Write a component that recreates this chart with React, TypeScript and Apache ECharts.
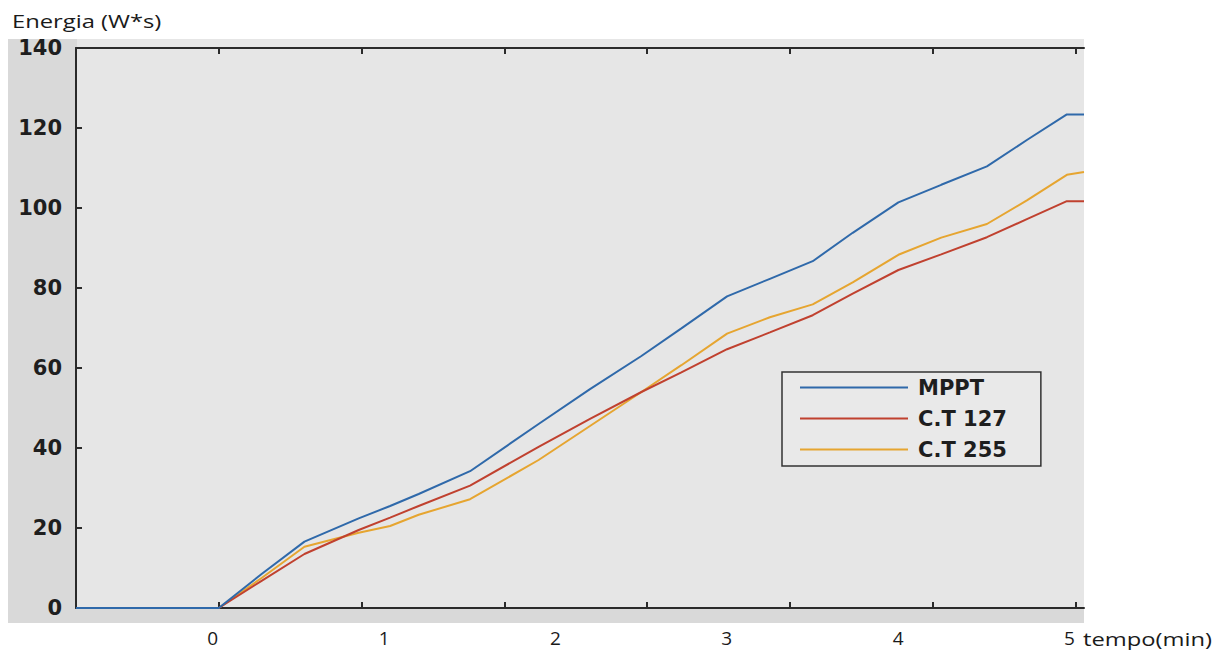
import React, { useEffect, useRef } from "react";
import * as echarts from "echarts";

// Sample times in seconds (the axis is measured in seconds, labelled in minutes)
const timeSec = [-50, 0, 15, 30, 49, 60, 70, 88, 112, 130, 148, 162, 178, 193, 208, 222, 238, 253, 269, 283, 297, 303];

// Accumulated energy (W*s) for each control strategy
const mppt = [0, 0, 8.5, 16.6, 22.4, 25.5, 28.5, 34.2, 46.0, 54.7, 63.0, 69.9, 77.9, 82.3, 86.7, 93.8, 101.4, 105.8, 110.4, 117.0, 123.4, 123.4];
const ct127 = [0, 0, 6.8, 13.5, 19.5, 22.6, 25.5, 30.6, 40.3, 47.3, 54.0, 58.9, 64.7, 68.9, 73.2, 78.6, 84.5, 88.4, 92.7, 97.2, 101.7, 101.7];
const ct255 = [0, 0, 7.5, 15.3, 18.8, 20.5, 23.3, 27.2, 37.0, 45.5, 54.0, 60.7, 68.6, 72.7, 75.9, 81.4, 88.3, 92.6, 96.0, 101.9, 108.3, 109.0];

const seriesNames = ["MPPT", "C.T 127", "C.T 255"];
const seriesColors = ["#2f69aa", "#c0412f", "#e6a530"];

// Tick marks every 50 s, labels every minute
const secTicks = [-50, 0, 50, 100, 150, 200, 250, 300];
const minuteLabels = [0, 1, 2, 3, 4, 5];
const yTicks = [0, 20, 40, 60, 80, 100, 120, 140];

const AXIS_COLOR = "#2a2a2a";
const LABEL_FONT = "'Open Sans', 'Noto Sans', sans-serif";
const BOLD_FONT = "'DejaVu Sans', Verdana, sans-serif";

export default function App() {
  const ref = useRef<HTMLDivElement>(null);

  useEffect(() => {
    if (!ref.current) return;
    const chart = echarts.init(ref.current, null, { renderer: "svg" });

    const zip = (ys: number[]) => timeSec.map((t, i) => [t, ys[i]]);
    const allSeries = [mppt, ct127, ct255];

    const sharedX = {
      type: "value" as const,
      min: -50,
      max: 303,
      axisLine: { show: true, onZero: false, lineStyle: { color: AXIS_COLOR, width: 2 } },
      splitLine: { show: false },
    };

    chart.setOption({
      animation: false,
      backgroundColor: "#ffffff",
      grid: { left: 76, top: 48, width: 1008, height: 560, containLabel: false },
      graphic: [
        {
          type: "rect",
          z: -10,
          silent: true,
          shape: { x: 8, y: 39, width: 1076, height: 584 },
          style: { fill: "#d9d9d9" },
        },
        {
          type: "rect",
          z: -9,
          silent: true,
          shape: { x: 77, y: 39, width: 1007, height: 569 },
          style: { fill: "#e6e6e6" },
        },
        {
          type: "text",
          x: 12,
          y: 20,
          scaleX: 1.25,
          style: {
            text: "Energia (W*s)",
            x: 0,
            y: 0,
            fontFamily: LABEL_FONT,
            fontSize: 19,
            fill: "#1a1a1a",
            verticalAlign: "middle",
          },
        },
        {
          type: "text",
          x: 1083,
          y: 638,
          scaleX: 1.25,
          style: {
            text: "tempo(min)",
            x: 0,
            y: 0,
            fontFamily: LABEL_FONT,
            fontSize: 19,
            fill: "#1a1a1a",
            verticalAlign: "middle",
          },
        },
      ],
      xAxis: [
        {
          ...sharedX,
          position: "bottom",
          axisTick: {
            show: true,
            inside: true,
            length: 6,
            customValues: secTicks,
            lineStyle: { color: AXIS_COLOR, width: 2 },
          },
          axisLabel: {
            show: true,
            customValues: minuteLabels.map((m) => m * 60),
            formatter: (v: number) => String(Math.round(v / 60)),
            margin: 20,
            fontFamily: LABEL_FONT,
            fontSize: 19,
            color: "#1a1a1a",
            padding: [0, 12, 0, 0],
          },
        },
        {
          ...sharedX,
          position: "top",
          axisTick: {
            show: true,
            inside: true,
            length: 6,
            customValues: secTicks,
            lineStyle: { color: AXIS_COLOR, width: 2 },
          },
          axisLabel: { show: false },
        },
      ],
      yAxis: {
        type: "value",
        min: 0,
        max: 140,
        interval: 20,
        axisLine: { show: true, onZero: false, lineStyle: { color: AXIS_COLOR, width: 2 } },
        axisTick: {
          show: true,
          inside: true,
          length: 6,
          customValues: yTicks,
          lineStyle: { color: AXIS_COLOR, width: 2 },
        },
        axisLabel: {
          margin: 14,
          fontFamily: BOLD_FONT,
          fontWeight: "bold",
          fontSize: 21,
          color: "#1e1e1e",
        },
        splitLine: { show: false },
      },
      legend: {
        show: true,
        orient: "vertical",
        left: 782,
        top: 372,
        align: "left",
        padding: [5, 34, 6, 18],
        itemGap: 10,
        itemWidth: 108,
        itemHeight: 2,
        backgroundColor: "#e9e9e9",
        borderColor: "#333333",
        borderWidth: 1.5,
        borderRadius: 0,
        textStyle: {
          fontFamily: BOLD_FONT,
          fontWeight: "bold",
          fontSize: 21,
          color: "#1e1e1e",
          padding: [0, 0, 0, 5],
        },
        data: seriesNames.map((name) => ({ name, icon: "rect" })),
      },
      series: allSeries.map((ys, i) => ({
        name: seriesNames[i],
        type: "line",
        xAxisIndex: 0,
        data: zip(ys),
        showSymbol: false,
        symbol: "none",
        smooth: false,
        lineStyle: { color: seriesColors[i], width: 2 },
        itemStyle: { color: seriesColors[i] },
        z: 3 + (2 - i),
      })),
    });

    return () => chart.dispose();
  }, []);

  return (
    <div
      ref={ref}
      style={{ position: "fixed", left: 0, top: 0, width: 1230, height: 652, background: "#fff" }}
    />
  );
}
